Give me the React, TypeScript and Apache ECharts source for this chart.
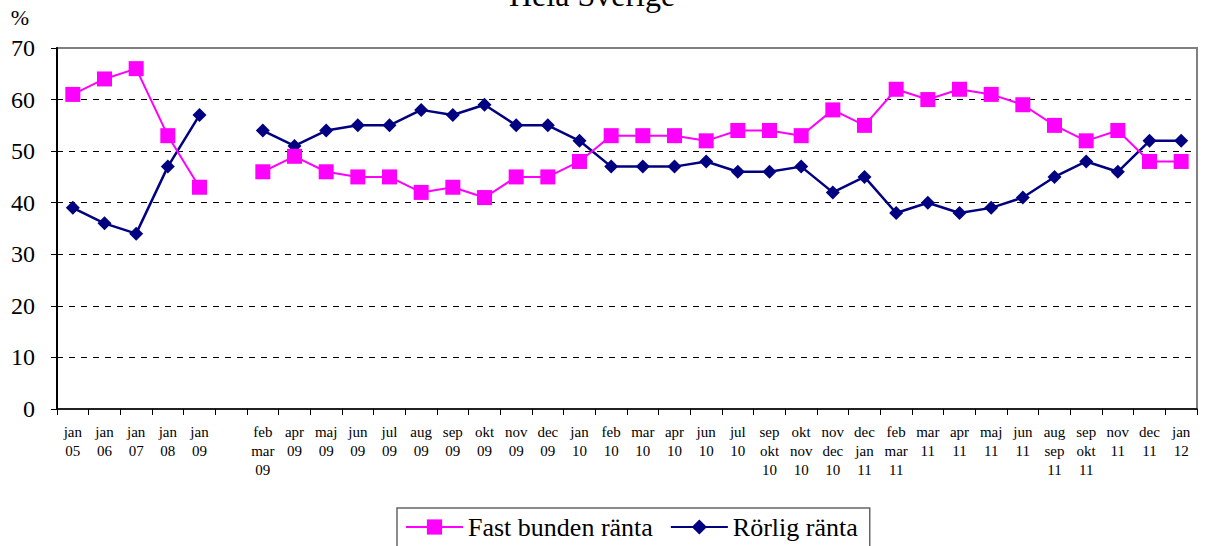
import React, { useEffect, useRef } from "react";
import * as echarts from "echarts";

const categories = [
  "jan\n05", "jan\n06", "jan\n07", "jan\n08", "jan\n09", "",
  "feb\nmar\n09", "apr\n09", "maj\n09", "jun\n09", "jul\n09", "aug\n09", "sep\n09", "okt\n09", "nov\n09", "dec\n09",
  "jan\n10", "feb\n10", "mar\n10", "apr\n10", "jun\n10", "jul\n10", "sep\nokt\n10", "okt\nnov\n10", "nov\ndec\n10", "dec\njan\n11",
  "feb\nmar\n11", "mar\n11", "apr\n11", "maj\n11", "jun\n11", "aug\nsep\n11", "sep\nokt\n11", "nov\n11", "dec\n11", "jan\n12",
];

const fastBunden = [
  61, 64, 66, 53, 43, null,
  46, 49, 46, 45, 45, 42, 43, 41, 45, 45,
  48, 53, 53, 53, 52, 54, 54, 53, 58, 55,
  62, 60, 62, 61, 59, 55, 52, 54, 48, 48,
];

const rorlig = [
  39, 36, 34, 47, 57, null,
  54, 51, 54, 55, 55, 58, 57, 59, 55, 55,
  52, 47, 47, 47, 48, 46, 46, 47, 42, 45,
  38, 40, 38, 39, 41, 45, 48, 46, 52, 52,
];

const yTicks = { min: 0, max: 70, interval: 10 };
const titleText = "Hela Sverige";
const seriesNames = ["Fast bunden ränta", "Rörlig ränta"];

const FONT = "Liberation Serif";

const txt = (size: number, extra: Record<string, unknown> = {}) => ({
  fontFamily: FONT,
  fontSize: size,
  fontWeight: "normal",
  fontStyle: "normal",
  color: "#000",
  ...extra,
});

export default function App() {
  const ref = useRef<HTMLDivElement>(null);

  useEffect(() => {
    if (!ref.current) return;
    const chart = echarts.init(ref.current, undefined, { renderer: "svg" });
    chart.setOption({
      animation: false,
      backgroundColor: "#ffffff",
      textStyle: { fontFamily: FONT, fontWeight: "normal" },
      title: {
        text: titleText,
        left: 509,
        top: -21,
        padding: 0,
        textStyle: txt(32),
      },
      legend: {
        data: seriesNames,
        left: 397,
        top: 508,
        orient: "horizontal",
        borderColor: "#666666",
        borderWidth: 1.5,
        padding: [6, 12, 14, 8],
        itemGap: 17,
        itemWidth: 57,
        itemHeight: 19,
        textStyle: txt(26),
      },
      grid: {
        left: 57,
        right: 8,
        top: 48,
        bottom: 137,
        show: true,
        borderColor: "#808080",
        borderWidth: 2,
        backgroundColor: "transparent",
      },
      xAxis: {
        type: "category",
        data: categories,
        boundaryGap: true,
        axisLine: { show: true, lineStyle: { color: "#000", width: 1.5 } },
        axisTick: { show: true, length: 6, interval: 0, lineStyle: { color: "#000", width: 1 } },
        axisLabel: {
          interval: 0,
          ...txt(15),
          lineHeight: 19,
          margin: 13,
        },
        splitLine: { show: false },
      },
      yAxis: {
        type: "value",
        min: yTicks.min,
        max: yTicks.max,
        interval: yTicks.interval,
        name: "%",
        nameLocation: "end",
        nameGap: 20,
        nameTextStyle: txt(22, { align: "right", padding: [0, 28, 0, 0] }),
        axisLine: { show: true, lineStyle: { color: "#000", width: 2 } },
        axisTick: { show: true, length: 6, lineStyle: { color: "#000", width: 1 } },
        axisLabel: { ...txt(24), margin: 22 },
        splitLine: {
          show: true,
          lineStyle: {
            color: ["transparent", "#000", "#000", "#000", "#000", "#000", "#000", "transparent"],
            type: [6, 6],
            width: 1,
          },
        },
      },
      series: [
        {
          name: seriesNames[1],
          type: "line",
          data: rorlig,
          symbol: "diamond",
          symbolSize: 14,
          color: "#000080",
          itemStyle: { color: "#000080" },
          lineStyle: { color: "#000080", width: 2.5 },
          connectNulls: false,
        },
        {
          name: seriesNames[0],
          type: "line",
          data: fastBunden,
          symbol: "rect",
          symbolSize: 15,
          color: "#FF00FF",
          itemStyle: { color: "#FF00FF" },
          lineStyle: { color: "#FF00FF", width: 2 },
          connectNulls: false,
        },
      ],
    });
    return () => chart.dispose();
  }, []);

  return (
    <div
      ref={ref}
      style={{ position: "fixed", left: 0, top: 0, width: 1205, height: 546, background: "#fff" }}
    />
  );
}
